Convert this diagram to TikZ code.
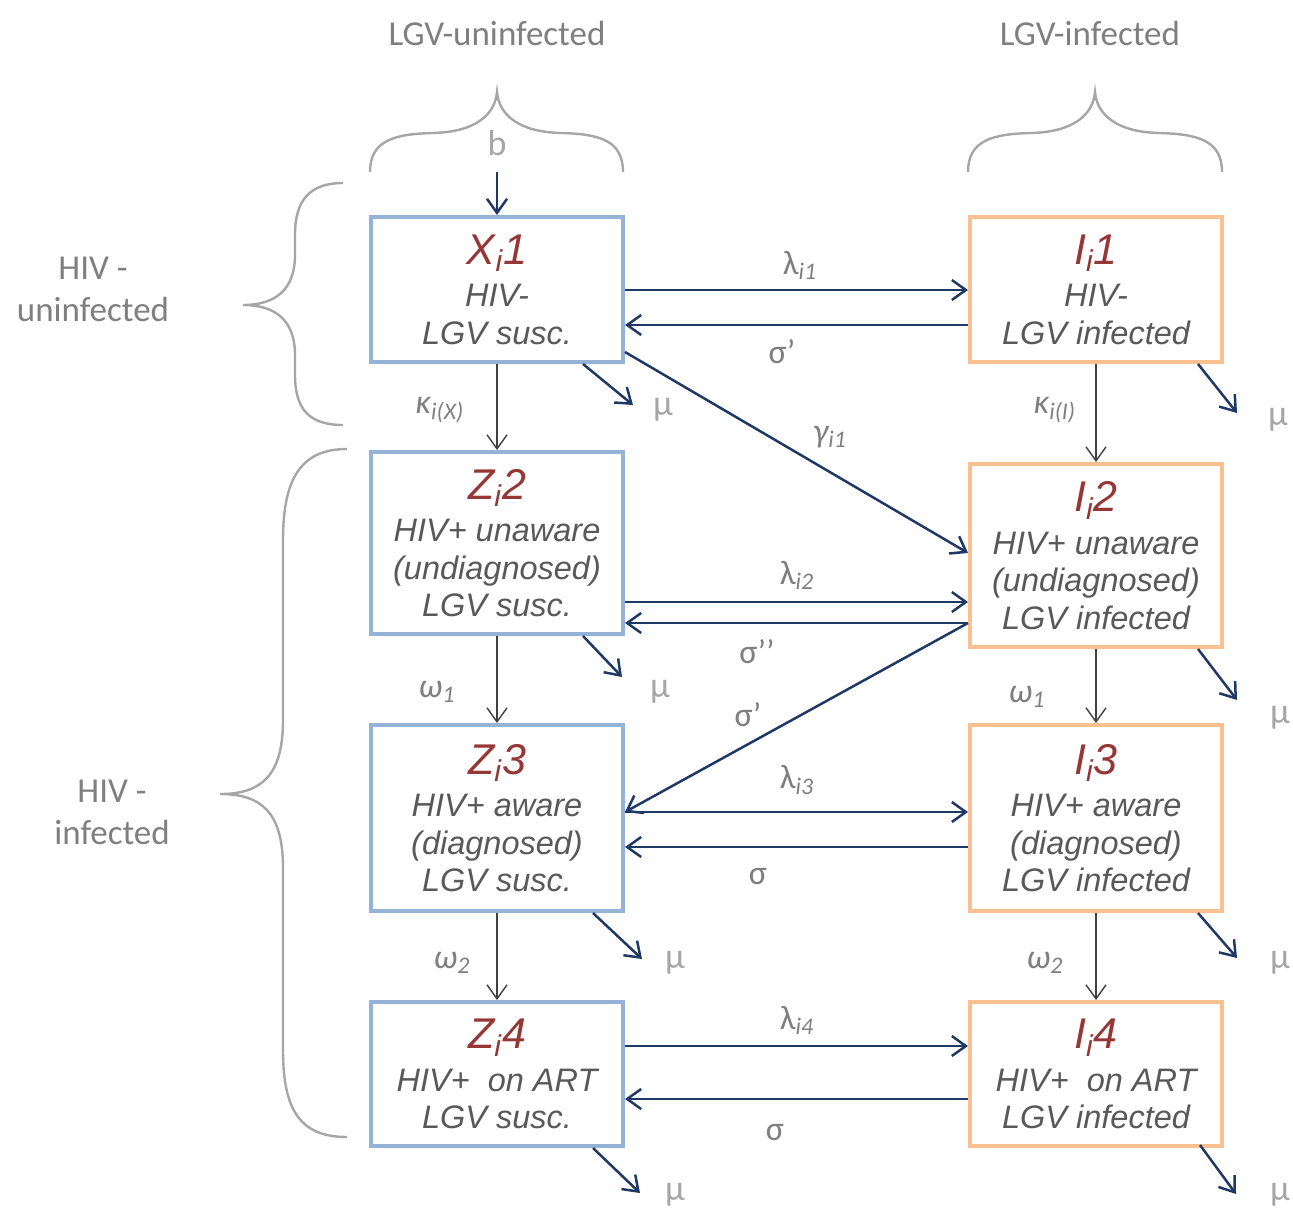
\documentclass[tikz,border=0pt]{standalone}
\usepackage{fontspec}
\setmainfont{Liberation Sans}
\newfontfamily\lblfont{Carlito}
\usetikzlibrary{arrows.meta,calc}

\definecolor{boxblue}{HTML}{95B3D7}
\definecolor{boxorange}{HTML}{FAC090}
\definecolor{titlered}{HTML}{953735}
\definecolor{boxtext}{HTML}{595959}
\definecolor{navy}{HTML}{1F3864}
\definecolor{progline}{HTML}{404040}
\definecolor{bracegray}{HTML}{A6A6A6}
\definecolor{lblgray}{HTML}{7F7F7F}
\definecolor{mugray}{HTML}{A6A6A6}

% compartment title, e.g. X_i1
\newcommand\cname[2]{{\fontsize{21.5}{24}\selectfont\color{titlered}#1\textsubscript{i}#2}\\[2.5pt]}

\tikzset{
  compartment/.style={draw, line width=2pt, fill=white, minimum width=126pt,
    align=center, inner sep=0pt, text=boxtext,
    font=\fontsize{16.25}{18.75}\selectfont\itshape},
  sus/.style={compartment, draw=boxblue},
  inf/.style={compartment, draw=boxorange},
  flow/.style={draw=navy, line width=1.25pt,
    -{Straight Barb[length=7pt,width=10pt,line width=1.25pt]}},
  prog/.style={draw=progline, line width=0.7pt,
    -{Straight Barb[length=7pt,width=10pt,line width=0.7pt]}},
  rate/.style={font=\lblfont\fontsize{17}{19}\selectfont, text=lblgray, inner sep=0pt},
  mu/.style={rate, text=mugray, font=\lblfont\fontsize{18}{20}\selectfont},
  bracket/.style={draw=bracegray, line width=1.2pt},
  group/.style={font=\lblfont\fontsize{17.5}{21}\selectfont, text=lblgray, align=center}
}

\begin{document}
\begin{tikzpicture}[x=0.5pt, y=-0.5pt]
\useasboundingbox (0,0) rectangle (1293,1210);

% column and row group labels
\node[group] (lgvU) at (497,33) {LGV-uninfected};
\node[group] (lgvI) at (1090,33) {LGV-infected};
\node[group] (hivU) at (93,289) {HIV -\\uninfected};
\node[group] (hivI) at (112,812) {HIV -\\infected};

% braces
\draw[bracket] (370,172) .. controls (370,140) and (395,134) .. (433,133)
  .. controls (475,132) and (495,115) .. (497,92)
  .. controls (499,115) and (519,132) .. (561,133)
  .. controls (599,134) and (623,140) .. (623,172);
\draw[bracket] (968,172) .. controls (968,140) and (993,134) .. (1031,133)
  .. controls (1073,132) and (1093,115) .. (1095,92)
  .. controls (1097,115) and (1117,132) .. (1159,133)
  .. controls (1197,134) and (1222,140) .. (1222,172);
\draw[bracket] (343,183) .. controls (310,183) and (295,200) .. (295,235)
  -- (295,255) .. controls (295,290) and (275,305) .. (243,305)
  .. controls (275,305) and (295,320) .. (295,355)
  -- (295,375) .. controls (295,410) and (310,425) .. (343,425);
\draw[bracket] (347,449) .. controls (300,449) and (283,480) .. (283,540)
  -- (283,720) .. controls (283,775) and (262,794) .. (220,794)
  .. controls (262,794) and (283,813) .. (283,868)
  -- (283,1050) .. controls (283,1110) and (300,1137) .. (347,1137);

% compartments
\node[sus, minimum height=72.5pt] (X1) at (497,289.5)
  {\cname{X}{1}HIV-\\LGV susc.};
\node[inf, minimum height=72.5pt] (I1) at (1096,289.5)
  {\cname{I}{1}HIV-\\LGV infected};
\node[sus, minimum height=91pt] (Z2) at (497,543)
  {\cname{Z}{2}HIV+ unaware\\(undiagnosed)\\LGV susc.};
\node[inf, minimum height=91.5pt] (I2) at (1096,555.5)
  {\cname{I}{2}HIV+ unaware\\(undiagnosed)\\LGV infected};
\node[sus, minimum height=93pt] (Z3) at (497,818)
  {\cname{Z}{3}HIV+ aware\\(diagnosed)\\LGV susc.};
\node[inf, minimum height=93pt] (I3) at (1096,818)
  {\cname{I}{3}HIV+ aware\\(diagnosed)\\LGV infected};
\node[sus, minimum height=72pt] (Z4) at (497,1074)
  {\cname{Z}{4}HIV+~ on ART\\LGV susc.};
\node[inf, minimum height=72pt] (I4) at (1096,1074)
  {\cname{I}{4}HIV+~ on ART\\LGV infected};

% recruitment
\coordinate (bsrc) at (497,172);
\node[mu] (b) at (497,143) {b};
\draw[flow, line width=1pt] (bsrc) -- (X1.north);

% infection and recovery flows
\draw[flow] ($(X1.east)+(0,0.5)$) -- ($(I1.west)+(0,0.5)$);
\draw[flow] ($(I1.west)+(0,35.5)$) -- ($(X1.east)+(0,35.5)$);
\draw[flow] ($(X1.east)+(0,62.5)$) -- ($(I2.west)+(0,-2.5)$);
\draw[flow] ($(Z2.east)+(0,59)$) -- ($(I2.west)+(0,46.5)$);
\draw[flow] ($(I2.west)+(0,67.5)$) -- ($(Z2.east)+(0,80)$);
\draw[flow] ($(I2.west)+(0,67.5)$) -- ($(Z3.east)+(0,-6)$);
\draw[flow] ($(Z3.east)+(0,-6)$) -- ($(I3.west)+(0,-6)$);
\draw[flow] ($(I3.west)+(0,29)$) -- ($(Z3.east)+(0,29)$);
\draw[flow] ($(Z4.east)+(0,-28)$) -- ($(I4.west)+(0,-28)$);
\draw[flow] ($(I4.west)+(0,25)$) -- ($(Z4.east)+(0,25)$);

% HIV progression
\draw[prog] (X1.south) -- (Z2.north);
\draw[prog] (Z2.south) -- (Z3.north);
\draw[prog] (Z3.south) -- (Z4.north);
\draw[prog] (I1.south) -- (I2.north);
\draw[prog] (I2.south) -- (I3.north);
\draw[prog] (I3.south) -- (I4.north);

% deaths
\draw[flow] ($(X1.south)+(86,0)$) -- ++(50,41);
\draw[flow] ($(Z2.south)+(86,0)$) -- ++(39,41);
\draw[flow] ($(Z3.south)+(96,0)$) -- ++(49,46);
\draw[flow] ($(Z4.south)+(96,0)$) -- ++(47,45);
\draw[flow] ($(I1.south)+(102,0)$) -- ++(39,49);
\draw[flow] ($(I2.south)+(102,0)$) -- ++(39,51);
\draw[flow] ($(I3.south)+(102,0)$) -- ++(39,45);
\draw[flow] ($(I4.south)+(104,-3)$) -- ++(36,49);

% rate labels
\node[rate] (l1) at (800,265) {λ\textsubscript{\itshape i1}};
\node[rate] (s1) at (782,352) {σ’};
\node[rate] (g1) at (830,437) {\itshape γ\textsubscript{i1}};
\node[rate] (kx) at (440,410) {\itshape κ\textsubscript{i(X)}};
\node[rate] (ki) at (1055,410) {\itshape κ\textsubscript{i(I)}};
\node[rate] (l2) at (797,575) {λ\textsubscript{\itshape i2}};
\node[rate] (s2) at (757,652) {σ’’};
\node[rate] (s2b) at (748,715) {σ’};
\node[rate] (w1a) at (437,692) {\itshape ω\textsubscript{1}};
\node[rate] (w1b) at (1027,697) {\itshape ω\textsubscript{1}};
\node[rate] (l3) at (797,780) {λ\textsubscript{\itshape i3}};
\node[rate] (s3) at (758,877) {σ};
\node[rate] (w2a) at (452,963) {\itshape ω\textsubscript{2}};
\node[rate] (w2b) at (1045,963) {\itshape ω\textsubscript{2}};
\node[rate] (l4) at (797,1020) {λ\textsubscript{\itshape i4}};
\node[rate] (s4) at (775,1133) {σ};

\node[mu] (mX1) at (663,410) {μ};
\node[mu] (mZ2) at (660,692) {μ};
\node[mu] (mZ3) at (675,963) {μ};
\node[mu] (mZ4) at (675,1195) {μ};
\node[mu] (mI1) at (1278,420) {μ};
\node[mu] (mI2) at (1280,718) {μ};
\node[mu] (mI3) at (1280,963) {μ};
\node[mu] (mI4) at (1280,1195) {μ};
\end{tikzpicture}
\end{document}
